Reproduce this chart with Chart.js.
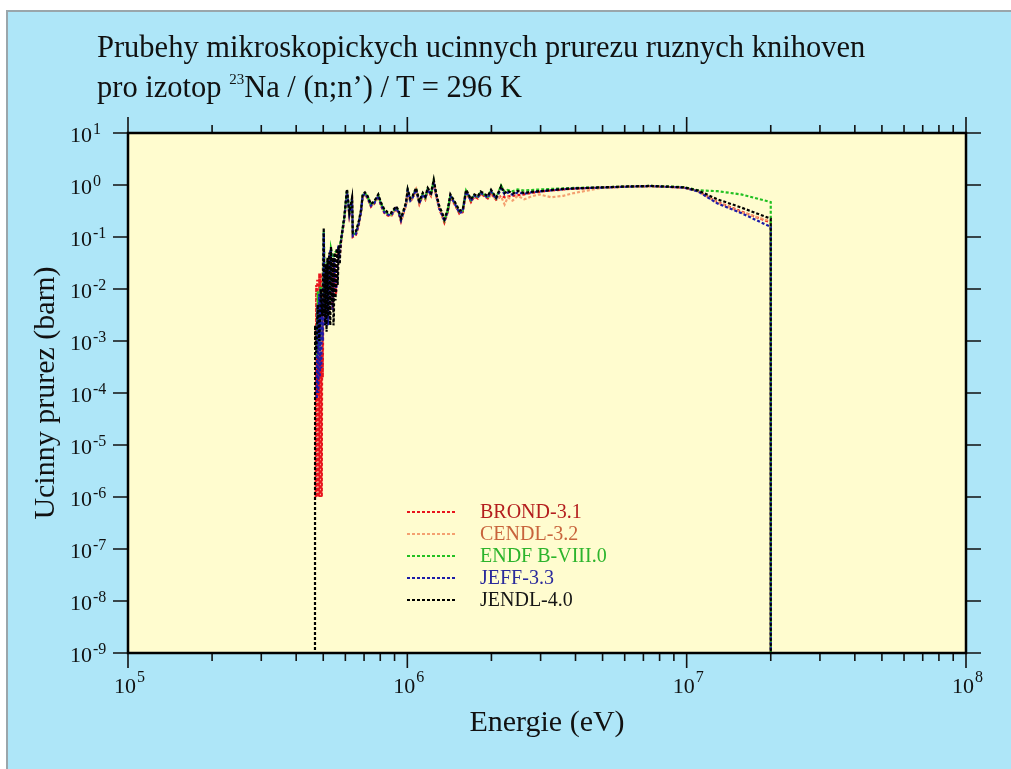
<!DOCTYPE html>
<html>
<head>
<meta charset="utf-8">
<title>23Na (n;n') ucinne prurezy</title>
<script src="https://cdn.jsdelivr.net/npm/chart.js@4.4.1/dist/chart.umd.min.js"></script>
<style>
  html, body { margin: 0; padding: 0; background: #fff; }
  #wrap { position: relative; width: 1011px; height: 769px; overflow: hidden; }
  #panel { position: absolute; left: 6px; top: 10px; right: 0; bottom: 0; background: #aee6f8;
           border-left: 2px solid #9aa6ab; border-top: 2px solid #9aa6ab; }
  #chart { position: absolute; left: 0; top: 0; }
  #title { position: absolute; left: 97px; top: 27px; font-family: "Liberation Serif", "Times New Roman", serif;
           font-size: 30.5px; line-height: 40px; color: #111; white-space: nowrap; }
  #title .iso { font-size: 15px; vertical-align: 13px; line-height: 0; }
</style>
</head>
<body>
<div id="wrap">
  <div id="panel"></div>
  <canvas id="chart" width="1011" height="769"></canvas>
  <div id="title">Prubehy mikroskopickych ucinnych prurezu ruznych knihoven<br>pro izotop <span class="iso">23</span>Na / (n;n’) / T = 296 K</div>
</div>
<script>
// Libraries and styles
const libraries = ['BROND-3.1', 'CENDL-3.2', 'ENDF B-VIII.0', 'JEFF-3.3', 'JENDL-4.0'];
const lineColors = ['#e8141c', '#f4a070', '#22c022', '#1c1ca8', '#000000'];
const labelColors = ['#b41e1e', '#c8643c', '#2cb42c', '#2a2a9c', '#161616'];
const drawOrder = [4, 3, 2, 1, 0]; // JENDL on top

// Axis ticks
const xMajorTicks = [1e5, 1e6, 1e7, 1e8];
const xTickExponents = ['5', '6', '7', '8'];
const xMinorSteps = [2, 3, 4, 5, 6, 7, 8, 9];
const yMajorTicks = [1e1, 1e0, 1e-1, 1e-2, 1e-3, 1e-4, 1e-5, 1e-6, 1e-7, 1e-8, 1e-9];
const yTickExponents = ['1', '0', '-1', '-2', '-3', '-4', '-5', '-6', '-7', '-8', '-9'];

// Threshold region (eV / barn), per library
const energyLowBrond = [4.70e5, 4.72e5, 4.74e5, 4.76e5, 4.78e5, 4.80e5, 4.82e5, 4.84e5, 4.86e5, 4.88e5, 4.90e5, 4.92e5, 4.94e5,
  4.96e5, 4.98e5, 5.02e5, 5.08e5, 5.14e5, 5.20e5, 5.26e5, 5.33e5, 5.40e5, 5.48e5, 5.56e5, 5.65e5, 5.72e5];
const xsLowBrond = [1e-6, 1.2e-2, 1e-6, 1.5e-2, 1e-6, 1e-2, 1e-6, 2e-2, 1e-6, 1.5e-2, 1e-6, 2e-2, 1e-6,
  1.2e-2, 2e-4, 0.06, 2e-3, 0.03, 3e-3, 0.04, 0.05, 4e-3, 0.03, 0.008, 0.05, 0.04];

const energyLowCendl = [4.72e5, 4.76e5, 4.80e5, 4.85e5, 4.90e5, 4.95e5, 5.02e5, 5.08e5, 5.14e5, 5.22e5, 5.30e5, 5.40e5, 5.50e5, 5.60e5, 5.70e5];
const xsLowCendl = [3e-4, 8e-3, 5e-4, 1e-2, 6e-4, 1.2e-2, 0.1, 3e-3, 0.025, 4e-3, 0.05, 5e-3, 0.04, 0.05, 0.06];

const energyLowEndf = [4.73e5, 4.78e5, 4.83e5, 4.88e5, 4.93e5, 4.98e5, 5.02e5, 5.10e5, 5.18e5, 5.26e5, 5.33e5, 5.42e5, 5.50e5, 5.60e5, 5.70e5];
const xsLowEndf = [5e-4, 9e-3, 7e-4, 1.1e-2, 1e-3, 1e-2, 0.13, 3e-3, 0.035, 4e-3, 0.06, 0.04, 0.05, 0.055, 0.065];

const energyLowJeff = [4.74e5, 4.77e5, 4.80e5, 4.83e5, 4.86e5, 4.89e5, 4.92e5, 4.95e5, 4.98e5, 5.02e5, 5.08e5, 5.14e5, 5.20e5,
  5.26e5, 5.33e5, 5.40e5, 5.48e5, 5.56e5, 5.65e5, 5.72e5];
const xsLowJeff = [8e-5, 5e-3, 1e-4, 8e-3, 2e-4, 1e-2, 3e-4, 6e-3, 1e-3, 0.12, 2e-3, 0.03, 2e-3,
  0.045, 0.06, 4e-3, 0.04, 0.009, 0.055, 0.045];

const energyLowJendl = [4.67e5, 4.675e5, 4.72e5, 4.78e5, 4.84e5, 4.90e5, 4.96e5, 5.00e5, 5.02e5, 5.04e5,
  5.06e5, 5.08e5, 5.10e5, 5.12e5, 5.14e5, 5.16e5, 5.18e5, 5.20e5, 5.22e5, 5.24e5,
  5.26e5, 5.28e5, 5.30e5, 5.33e5, 5.36e5, 5.38e5, 5.40e5, 5.42e5, 5.44e5, 5.46e5,
  5.48e5, 5.50e5, 5.53e5, 5.55e5, 5.58e5, 5.60e5, 5.63e5, 5.65e5, 5.68e5, 5.70e5,
  5.73e5, 5.75e5];
const xsLowJendl = [1e-10, 2e-3, 6e-4, 5e-3, 1e-3, 1e-2, 3e-3, 0.02, 0.15, 3e-3,
  0.02, 2e-3, 0.03, 4e-3, 1.5e-3, 0.025, 0.04, 3e-3, 4e-3, 0.03,
  0.05, 2.5e-3, 2e-3, 0.065, 6e-3, 5e-3, 0.035, 0.04, 2e-3, 3e-3,
  0.045, 0.05, 6e-3, 0.01, 0.055, 0.06, 0.012, 0.02, 0.065, 0.07,
  0.03, 0.05];

// Main region, shared energy grid (eV)
const energyMain = [
  5.79e5, 5.95e5, 6.08e5, 6.20e5, 6.34e5, 6.38e5, 6.55e5, 6.70e5, 6.83e5, 6.92e5,
  7.05e5, 7.21e5, 7.41e5, 7.62e5, 7.87e5, 8.05e5, 8.27e5, 8.50e5, 8.74e5, 9.11e5,
  9.30e5, 9.49e5, 9.89e5, 1.003e6, 1.025e6, 1.045e6, 1.074e6, 1.104e6, 1.136e6, 1.160e6,
  1.183e6, 1.215e6, 1.243e6, 1.267e6, 1.302e6, 1.330e6, 1.357e6, 1.395e6, 1.426e6, 1.474e6,
  1.505e6, 1.536e6, 1.579e6, 1.623e6, 1.646e6, 1.690e6, 1.738e6, 1.787e6, 1.830e6, 1.862e6,
  1.941e6, 1.994e6, 2.078e6, 2.166e6, 2.230e6, 2.288e6, 2.380e6, 2.485e6, 2.620e6, 2.774e6,
  2.970e6, 3.270e6, 3.620e6, 3.950e6, 4.940e6, 6.200e6, 7.460e6, 9.790e6, 1.100e7, 1.290e7,
  1.566e7, 2.000e7];

const xsMainBrond = [
  0.08, 0.22, 0.75, 0.26, 0.50, 0.10, 0.11, 0.17, 0.30, 0.60,
  0.66, 0.55, 0.38, 0.44, 0.60, 0.40, 0.29, 0.26, 0.25, 0.35,
  0.29, 0.20, 0.41, 0.76, 0.48, 0.56, 0.80, 0.43, 0.64, 0.53,
  0.80, 0.62, 1.10, 0.64, 0.34, 0.26, 0.19, 0.30, 0.60, 0.43,
  0.35, 0.28, 0.30, 0.72, 0.64, 0.47, 0.60, 0.55, 0.68, 0.64,
  0.55, 0.70, 0.52, 0.62, 0.58, 0.60, 0.62, 0.64, 0.66, 0.70,
  0.74, 0.78, 0.82, 0.85, 0.89, 0.93, 0.95, 0.89, 0.76, 0.47,
  0.31, 0.19];
const xsMainCendl = [
  0.08, 0.23, 0.78, 0.27, 0.52, 0.11, 0.12, 0.18, 0.31, 0.62,
  0.68, 0.57, 0.40, 0.46, 0.62, 0.42, 0.31, 0.27, 0.26, 0.36,
  0.30, 0.21, 0.43, 0.78, 0.50, 0.58, 0.82, 0.45, 0.66, 0.55,
  0.82, 0.65, 1.15, 0.66, 0.36, 0.28, 0.20, 0.31, 0.62, 0.45,
  0.37, 0.30, 0.31, 0.75, 0.66, 0.49, 0.62, 0.57, 0.70, 0.66,
  0.57, 0.62, 0.55, 0.60, 0.42, 0.58, 0.50, 0.62, 0.53, 0.60,
  0.66, 0.58, 0.62, 0.70, 0.88, 0.93, 0.95, 0.89, 0.76, 0.46,
  0.30, 0.20];
const xsMainEndf = [
  0.085, 0.24, 0.80, 0.28, 0.54, 0.11, 0.12, 0.19, 0.32, 0.64,
  0.70, 0.59, 0.41, 0.47, 0.64, 0.44, 0.32, 0.28, 0.27, 0.37,
  0.31, 0.22, 0.44, 0.80, 0.52, 0.60, 0.85, 0.47, 0.68, 0.57,
  0.85, 0.67, 1.20, 0.68, 0.37, 0.29, 0.21, 0.32, 0.64, 0.47,
  0.38, 0.31, 0.32, 0.78, 0.68, 0.51, 0.64, 0.59, 0.72, 0.68,
  0.59, 0.78, 0.56, 0.98, 0.74, 0.80, 0.76, 0.82, 0.78, 0.80,
  0.82, 0.84, 0.86, 0.88, 0.90, 0.94, 0.96, 0.91, 0.79, 0.76,
  0.66, 0.47];
const xsMainJeff = [
  0.085, 0.23, 0.78, 0.27, 0.52, 0.105, 0.115, 0.18, 0.31, 0.62,
  0.68, 0.57, 0.40, 0.45, 0.62, 0.42, 0.30, 0.27, 0.26, 0.36,
  0.30, 0.21, 0.42, 0.78, 0.50, 0.57, 0.82, 0.44, 0.66, 0.55,
  0.82, 0.64, 1.15, 0.66, 0.35, 0.27, 0.20, 0.31, 0.62, 0.45,
  0.36, 0.29, 0.31, 0.75, 0.66, 0.49, 0.62, 0.57, 0.70, 0.66,
  0.57, 0.75, 0.54, 0.85, 0.66, 0.72, 0.65, 0.72, 0.68, 0.72,
  0.75, 0.79, 0.83, 0.86, 0.89, 0.93, 0.95, 0.89, 0.75, 0.44,
  0.29, 0.156];
const xsMainJendl = [
  0.09, 0.25, 0.83, 0.30, 0.57, 0.12, 0.13, 0.20, 0.34, 0.66,
  0.72, 0.61, 0.43, 0.49, 0.66, 0.46, 0.34, 0.30, 0.29, 0.39,
  0.33, 0.23, 0.46, 0.83, 0.55, 0.62, 0.88, 0.49, 0.71, 0.60,
  0.88, 0.70, 1.27, 0.71, 0.39, 0.30, 0.22, 0.34, 0.66, 0.49,
  0.40, 0.32, 0.34, 0.81, 0.71, 0.53, 0.66, 0.61, 0.75, 0.71,
  0.61, 0.81, 0.57, 0.95, 0.70, 0.78, 0.68, 0.77, 0.70, 0.74,
  0.76, 0.80, 0.84, 0.86, 0.90, 0.94, 0.96, 0.90, 0.78, 0.53,
  0.37, 0.225];

// Cut-off at 20 MeV: every file drops to zero there
const energyCut = [2.0e7];
const xsCut = [1e-10];

const energyLow = [energyLowBrond, energyLowCendl, energyLowEndf, energyLowJeff, energyLowJendl];
const xsLow = [xsLowBrond, xsLowCendl, xsLowEndf, xsLowJeff, xsLowJendl];
const xsMain = [xsMainBrond, xsMainCendl, xsMainEndf, xsMainJeff, xsMainJendl];

const SERIF = '"Liberation Serif", "Times New Roman", serif';
const PLOT_BG = '#fffccf';

const toPoints = (xs, ys) => xs.map((e, i) => ({ x: e, y: ys[i] }));

const datasets = libraries.map((name, i) => ({
  label: name,
  data: toPoints(energyLow[i], xsLow[i])
    .concat(toPoints(energyMain, xsMain[i]))
    .concat(toPoints(energyCut, xsCut)),
  borderColor: lineColors[i],
  borderWidth: 2.2,
  borderDash: [3, 2],
  pointRadius: 0,
  fill: false,
  tension: 0,
  order: drawOrder[i]
}));

// Frame, ticks, labels, legend are drawn here (the reference style is gnuplot-like)
const framePlugin = {
  id: 'frame',
  beforeDraw(chart) {
    const { ctx, chartArea: a } = chart;
    ctx.save();
    ctx.fillStyle = PLOT_BG;
    ctx.fillRect(a.left, a.top, a.right - a.left, a.bottom - a.top);
    ctx.restore();
  },
  afterDraw(chart) {
    const { ctx, chartArea: a, scales: { x, y } } = chart;
    ctx.save();

    // legend
    libraries.forEach((name, i) => {
      const ly = 512 + i * 22;
      ctx.strokeStyle = lineColors[i];
      ctx.lineWidth = 1.8;
      ctx.setLineDash([3, 2]);
      ctx.beginPath();
      ctx.moveTo(407, ly);
      ctx.lineTo(455, ly);
      ctx.stroke();
      ctx.setLineDash([]);
      ctx.fillStyle = labelColors[i];
      ctx.font = '20px ' + SERIF;
      ctx.textAlign = 'left';
      ctx.textBaseline = 'middle';
      ctx.fillText(name, 480, ly + 1);
    });

    // ticks
    ctx.strokeStyle = '#111';
    ctx.lineWidth = 1.6;
    ctx.beginPath();
    xMajorTicks.forEach((v, i) => {
      const px = x.getPixelForValue(v);
      ctx.moveTo(px, a.bottom); ctx.lineTo(px, a.bottom + 15);
      ctx.moveTo(px, a.top); ctx.lineTo(px, a.top - 16);
      if (i < xMajorTicks.length - 1) {
        xMinorSteps.forEach(m => {
          const mx = x.getPixelForValue(v * m);
          ctx.moveTo(mx, a.bottom); ctx.lineTo(mx, a.bottom + 8);
          ctx.moveTo(mx, a.top); ctx.lineTo(mx, a.top - 8);
        });
      }
    });
    yMajorTicks.forEach(v => {
      const py = y.getPixelForValue(v);
      ctx.moveTo(a.left, py); ctx.lineTo(a.left - 15, py);
      ctx.moveTo(a.right, py); ctx.lineTo(a.right + 15, py);
    });
    ctx.stroke();

    // plot border
    ctx.lineWidth = 2.5;
    ctx.strokeStyle = '#000';
    ctx.strokeRect(a.left, a.top, a.right - a.left, a.bottom - a.top);

    // tick labels: 10^n
    ctx.fillStyle = '#111';
    ctx.textAlign = 'left';
    ctx.textBaseline = 'alphabetic';
    xMajorTicks.forEach((v, i) => {
      const px = x.getPixelForValue(v);
      ctx.font = '22px ' + SERIF;
      ctx.fillText('10', px - 14, a.bottom + 40);
      const w = ctx.measureText('10').width;
      ctx.font = '16px ' + SERIF;
      ctx.fillText(xTickExponents[i], px - 14 + w + 1, a.bottom + 29);
    });
    yMajorTicks.forEach((v, i) => {
      const py = y.getPixelForValue(v);
      ctx.font = '22px ' + SERIF;
      ctx.fillText('10', 70, py + 9);
      const w = ctx.measureText('10').width;
      ctx.font = '16px ' + SERIF;
      ctx.fillText(yTickExponents[i], 70 + w + 1, py + 1);
    });

    // axis titles
    ctx.font = '30px ' + SERIF;
    ctx.textAlign = 'center';
    ctx.fillText('Energie (eV)', (a.left + a.right) / 2, 731);
    ctx.translate(46, (a.top + a.bottom) / 2);
    ctx.rotate(-Math.PI / 2);
    ctx.textBaseline = 'middle';
    ctx.fillText('Ucinny prurez (barn)', 0, 0);

    ctx.restore();
  }
};

new Chart(document.getElementById('chart'), {
  type: 'line',
  data: { datasets },
  options: {
    responsive: false,
    animation: false,
    events: [],
    layout: { padding: { left: 128, top: 133, right: 45, bottom: 116 } },
    scales: {
      x: { type: 'logarithmic', min: 1e5, max: 1e8, display: false },
      y: { type: 'logarithmic', min: 1e-9, max: 10, display: false }
    },
    plugins: {
      legend: { display: false },
      tooltip: { enabled: false }
    }
  },
  plugins: [framePlugin]
});
</script>
</body>
</html>
